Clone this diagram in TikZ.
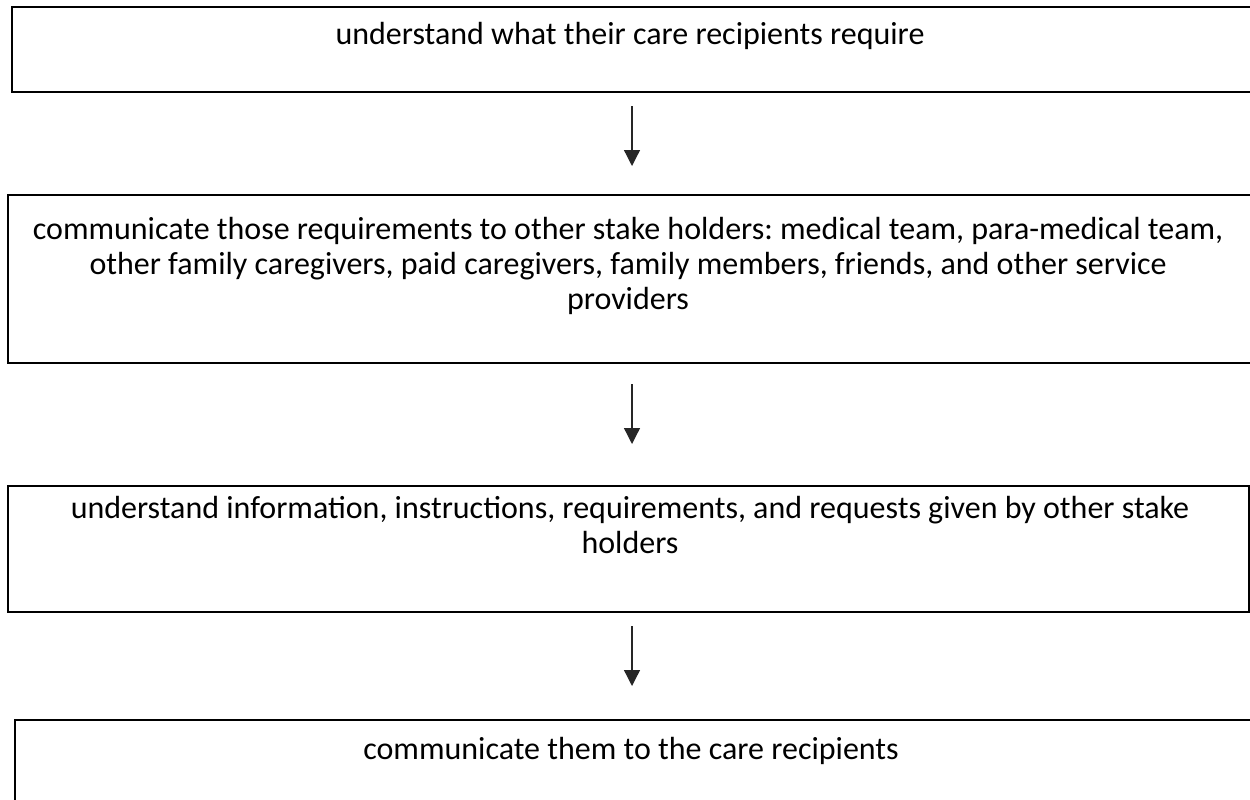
\documentclass[tikz,border=0pt]{standalone}
\usepackage{fontspec}
\setmainfont{Carlito}
\frenchspacing
\usetikzlibrary{arrows.meta,positioning}

\tikzset{
  stepbox/.style={draw, line width=2pt, inner sep=0pt},
  steptext/.style={align=center, font=\fontsize{32}{35}\selectfont},
  flow/.style={line width=1.3pt, black!85, arrows={-Triangle[width=16pt,length=16pt]}}
}

\begin{document}
\begin{tikzpicture}[x=1pt, y=-1pt]
\useasboundingbox (0, 0) rectangle (1250, 800);
\clip (0, 0) rectangle (1250, 800);

\node [stepbox, minimum width=1251pt, minimum height=85pt, anchor=north west] (box1) at (11, 6) {};
\node [stepbox, minimum width=1253pt, minimum height=168pt, anchor=north west] (box2) at (7, 194) {};
\node [stepbox, minimum width=1241pt, minimum height=126pt, anchor=north west] (box3) at (7, 485) {};
\node [stepbox, minimum width=1246pt, minimum height=120pt, anchor=north west] (box4) at (14, 719) {};

\node [steptext] (text1) at (630, 36) {understand what their care recipients require};
\node [steptext] (text2) at (628, 266) {communicate those requirements to other stake holders: medical team, para-medical team,\\
  other family caregivers, paid caregivers, family members, friends, and other service\\
  providers};
\node [steptext] (text3) at (630, 525) {understand information, instructions, requirements, and requests given by other stake\\
  holders};
\node [steptext] (text4) at (631, 751) {communicate them to the care recipients};

\coordinate (axis) at (632, 0);
\draw [flow, shorten <=13pt, shorten >=28pt] (box1.south -| axis) -- (box2.north -| axis);
\draw [flow, shorten <=20pt, shorten >=41pt] (box2.south -| axis) -- (box3.north -| axis);
\draw [flow, shorten <=13pt, shorten >=33pt] (box3.south -| axis) -- (box4.north -| axis);

\end{tikzpicture}
\end{document}
